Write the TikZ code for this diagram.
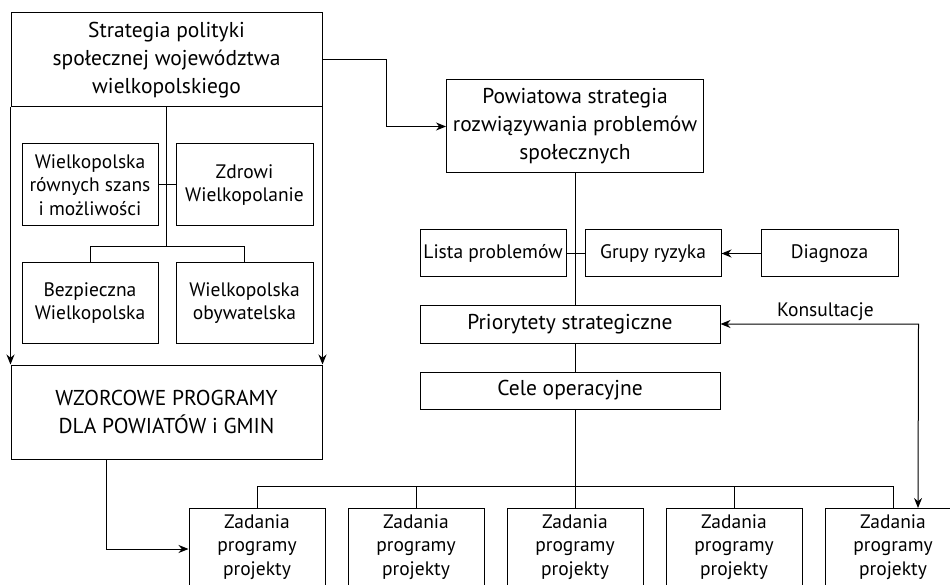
\documentclass[tikz,border=0pt]{standalone}
\usepackage{fontspec}
\setmainfont{PT Sans}
\usetikzlibrary{arrows.meta,positioning}

\begin{document}
\begin{tikzpicture}[x=1pt,y=-1pt,
  bigbox/.style={draw,line width=1pt,font=\fontsize{21.5}{28}\selectfont,align=center,inner sep=1pt},
  smallbox/.style={draw,line width=1pt,font=\fontsize{19.5}{23.5}\selectfont,align=center,inner sep=1pt},
  zadbox/.style={smallbox,anchor=north,minimum width=136pt,inner ysep=6pt,text depth=45pt},
  link/.style={line width=1pt},
  flow/.style={link,-{Stealth[length=10pt,width=8pt]}}]
  \fill[white] (0,0) rectangle (950,585);
  \clip (0,0) rectangle (950,585);
  % lewa strona: strategia wojewodztwa
  \node[bigbox,minimum width=311pt,minimum height=94pt] (strat) at (166.5,60) {Strategia polityki\\społecznej województwa\\wielkopolskiego};
  \node[smallbox,minimum width=136pt,minimum height=82pt] (szanse) at (90,185) {Wielkopolska\\równych szans\\i możliwości};
  \node[smallbox,minimum width=137pt,minimum height=82pt] (zdrowi) at (244.5,185) {Zdrowi\\Wielkopolanie};
  \node[smallbox,minimum width=136pt,minimum height=80pt] (bezp) at (90,303) {Bezpieczna\\Wielkopolska};
  \node[smallbox,minimum width=137pt,minimum height=80pt] (obyw) at (244.5,303) {Wielkopolska\\obywatelska};
  \node[bigbox,minimum width=311pt,minimum height=94pt] (wzor) at (166.5,412) {WZORCOWE PROGRAMY\\DLA POWIATÓW i GMIN};
  % prawa strona: strategia powiatowa
  \node[bigbox,minimum width=257pt,minimum height=93pt] (pow) at (575,126.5) {Powiatowa strategia\\rozwiązywania problemów\\społecznych};
  \node[smallbox,minimum width=146pt,minimum height=47pt] (lista) at (493,253.5) {Lista problemów};
  \node[smallbox,minimum width=136pt,minimum height=47pt,right=18pt of lista] (grupy) {Grupy ryzyka};
  \node[smallbox,minimum width=137pt,minimum height=47pt,right=39pt of grupy] (diag) {Diagnoza};
  \node[bigbox,minimum width=300pt,minimum height=38pt] (prio) at (570,324) {Priorytety strategiczne};
  \node[bigbox,minimum width=300pt,minimum height=37pt] (cele) at (570,390.5) {Cele operacyjne};
  \foreach \i/\x in {1/257,2/416,3/575,4/734,5/893}
    \node[zadbox] (zad\i) at (\x,508) {Zadania\\programy\\projekty};

  \draw[link] (strat.south) -- ++(0,140);
  \draw[link] (szanse.east) -- (zdrowi.west);
  \draw[link] (bezp.north) -- ++(0,-16) -| (obyw.north);
  \draw[flow] (strat.south west) -- (wzor.north west);
  \draw[flow] (strat.south east) -- (wzor.north east);
  \draw[flow] (strat.east) -- ++(64,0) |- (pow.west);
  \draw[flow] ([xshift=96pt]wzor.south west) |- ([yshift=-41pt]zad1.north west);

  \draw[link] (pow.south) -- (pow.south |- prio.north);
  \draw[link] (lista.east) -- (grupy.west);
  \draw[flow] (diag) -- (grupy);
  \draw[link] (pow.south |- prio.south) -- (pow.south |- cele.north);
  \draw[link] (pow.south |- cele.south) -- (zad3.north);
  \draw[link] (zad1.north) -- ++(0,-22) -| (zad5.north);
  \foreach \i in {2,4}
    \draw[link] (zad\i.north) -- ++(0,-22);
  \draw[link,{Stealth[length=10pt,width=8pt]}-{Stealth[length=10pt,width=8pt]}] (prio.east) -- node[above,pos=0.53]{\fontsize{19.5}{22}\selectfont Konsultacje} ++(198,0) -- ([xshift=25pt]zad5.north);
\end{tikzpicture}
\end{document}
